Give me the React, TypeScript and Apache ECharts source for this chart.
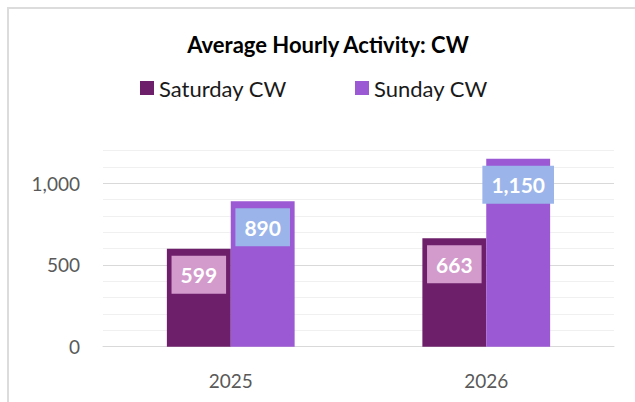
import React, { useEffect, useRef } from "react";
import * as echarts from "echarts";

const categories = ["2025", "2026"];
const saturdayValues = [599, 663];
const sundayValues = [890, 1150];
const seriesNames = ["Saturday CW", "Sunday CW"];
const yTickLabels = [0, 500, 1000];

const FONT = "Lato, 'Open Sans', sans-serif";

export default function App() {
  const ref = useRef<HTMLDivElement>(null);
  useEffect(() => {
    if (!ref.current) return;
    const chart = echarts.init(ref.current, null, { renderer: "svg" });
    const labelCommon = {
      show: true,
      position: "insideTop",
      distance: 7,
      color: "#ffffff",
      fontFamily: FONT,
      fontWeight: "bold",
      fontSize: 21,
      lineHeight: 22,
      padding: [8, 9],
      formatter: (p: any) => Number(p.value).toLocaleString("en-US"),
    };
    chart.setOption({
      animation: false,
      textStyle: { fontFamily: FONT },
      graphic: [
        {
          type: "text",
          x: 319,
          y: 35,
          style: {
            text: "Average Hourly Activity: CW",
            fill: "#000000",
            font: `bold 22px ${FONT}`,
            align: "center",
            verticalAlign: "middle",
          },
        },
      ],
      legend: [
        {
          data: [seriesNames[0]],
          left: 131,
          top: 68,
          padding: 0,
          itemWidth: 14,
          itemHeight: 14,
          itemGap: 6,
          icon: "rect",
          textStyle: { fontSize: 22, color: "#1a1a1a", fontFamily: FONT },
        },
        {
          data: [seriesNames[1]],
          left: 346,
          top: 68,
          padding: 0,
          itemWidth: 14,
          itemHeight: 14,
          itemGap: 6,
          icon: "rect",
          textStyle: { fontSize: 22, color: "#1a1a1a", fontFamily: FONT },
        },
      ],
      grid: { left: 94, right: 21, top: 141.6, bottom: 55.3 },
      xAxis: {
        type: "category",
        data: categories,
        axisLine: { lineStyle: { color: "#d9d9d9", width: 1 } },
        axisTick: { show: false },
        axisLabel: { color: "#595959", fontSize: 19, margin: 24, fontFamily: FONT },
      },
      yAxis: {
        type: "value",
        min: 0,
        max: 1200,
        interval: 100,
        axisLine: { show: false },
        axisTick: { show: false },
        axisLabel: {
          color: "#595959",
          fontSize: 19,
          margin: 23,
          fontFamily: FONT,
          formatter: (v: number) =>
            yTickLabels.includes(v) ? v.toLocaleString("en-US") : "",
        },
        splitLine: {
          lineStyle: {
            color: ["#d9d9d9", "#f0f0f0", "#f0f0f0", "#f0f0f0", "#f0f0f0"],
            width: 1,
          },
        },
      },
      series: [
        {
          name: seriesNames[0],
          type: "bar",
          data: saturdayValues,
          barGap: "0%",
          barCategoryGap: "50%",
          itemStyle: { color: "#6D1F6A" },
          label: { ...labelCommon, backgroundColor: "#D39BCC" },
        },
        {
          name: seriesNames[1],
          type: "bar",
          data: sundayValues,
          barGap: "0%",
          barCategoryGap: "50%",
          itemStyle: { color: "#9B59D3" },
          label: { ...labelCommon, backgroundColor: "#9BB5EA" },
        },
      ],
    });
    return () => chart.dispose();
  }, []);
  return (
    <div
      style={{
        position: "fixed",
        left: 7,
        top: 7,
        width: 628,
        height: 395,
        boxSizing: "border-box",
        borderLeft: "2px solid #dcdcdc",
        borderTop: "2px solid #dcdcdc",
        background: "#ffffff",
      }}
    >
      <div ref={ref} style={{ width: 626, height: 393 }} />
    </div>
  );
}
